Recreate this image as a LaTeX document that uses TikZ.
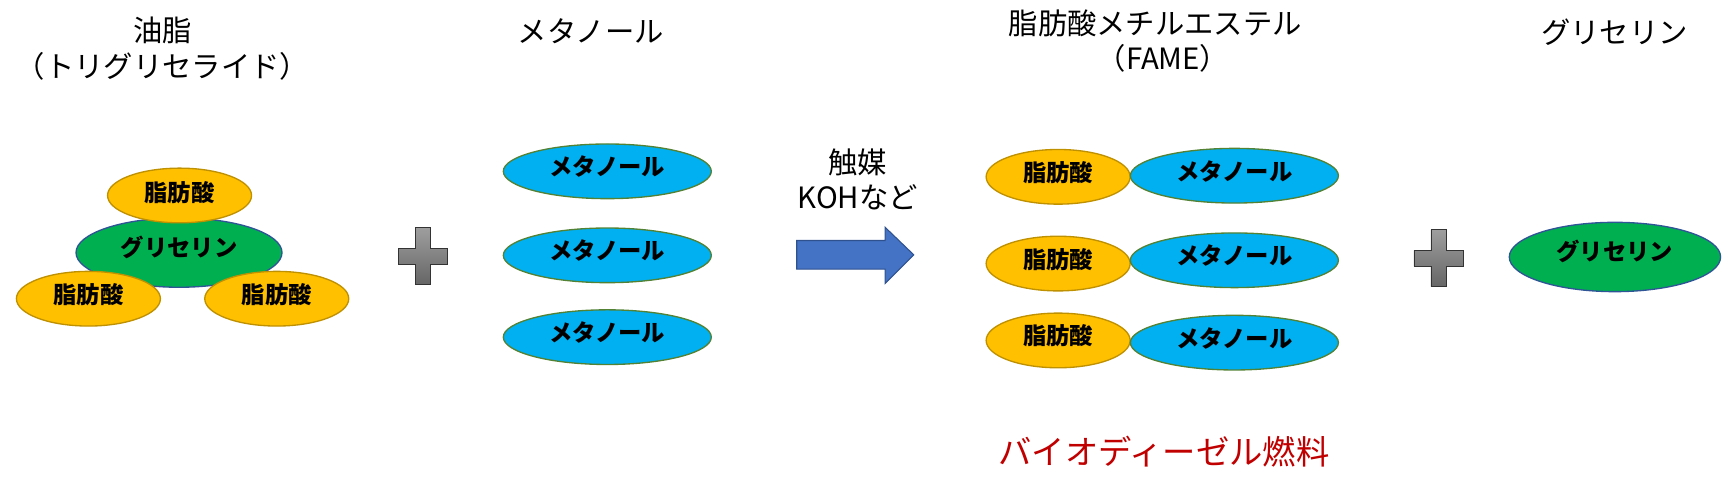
\documentclass[tikz,border=0pt]{standalone}
\usepackage{fontspec}
\setmainfont{Noto Sans CJK JP}
\usetikzlibrary{shapes.geometric}
\definecolor{fa}{HTML}{FFC000}
\definecolor{faline}{HTML}{BF9000}
\definecolor{me}{HTML}{00B0F0}
\definecolor{meline}{HTML}{548235}
\definecolor{gl}{HTML}{00B050}
\definecolor{glline}{HTML}{2F5597}
\definecolor{arr}{HTML}{4472C4}
\definecolor{arrline}{HTML}{2F528F}
\definecolor{redtxt}{HTML}{C00000}
\tikzset{
  blob/.style={ellipse,inner sep=0pt,line width=1pt},
  fablob/.style={blob,draw=faline,fill=fa,minimum width=108pt,minimum height=41pt},
  meblob/.style={blob,draw=meline,fill=me,minimum width=156pt,minimum height=41pt},
  glblob/.style={blob,draw=glline,fill=gl,minimum width=154.5pt,minimum height=52pt},
  glwide/.style={glblob,minimum width=158.5pt},
  intext/.style={font=\fontsize{17.5}{20}\selectfont\bfseries,inner sep=0pt},
  title/.style={font=\fontsize{22}{24}\selectfont,inner sep=0pt,align=center},
  plusmark/.style={draw=black!80,line width=0.6pt,top color=black!38,bottom color=black!60},
  arrowmark/.style={draw=arrline,line width=0.8pt,fill=arr}
}
\newcommand{\pill}[6]{%
  \node[#4] (#1) at (#2,#3) {};
  \node[intext] (#1t) at (#2,#3-#5) {#6};}
\newcommand{\plusat}[2]{%
  \path[plusmark] (#1-22.5,#2-7) -- (#1-7,#2-7) -- (#1-7,#2-26) -- (#1+7,#2-26) -- (#1+7,#2-7) -- (#1+22.5,#2-7) -- (#1+22.5,#2+7.5) -- (#1+7,#2+7.5) -- (#1+7,#2+26) -- (#1-7,#2+26) -- (#1-7,#2+7.5) -- (#1-22.5,#2+7.5) -- cycle;}
\begin{document}
\begin{tikzpicture}[x=0.8237pt,y=-0.8237pt]
\useasboundingbox (0,0) rectangle (1568,453.5);
% titles
\node[title] (t1) at (148,28) {油脂};
\node[title] (t2) at (148,60) {（トリグリセライド）};
\node[title] (t3) at (538,28) {メタノール};
\node[title] (t4) at (781,148) {触媒};
\node[title] (t5) at (781,180) {KOHなど};
\node[title] (t6) at (1052,21) {脂肪酸メチルエステル};
\node[title] (t7) at (1059,53) {（FAME）};
\node[title] (t8) at (1470,29) {グリセリン};
\node[title,text=redtxt,font=\fontsize{25}{27}\selectfont] (t9) at (1060,411) {バイオディーゼル燃料};
% triglyceride
\pill{g1}{163}{230}{glblob}{5}{グリセリン}
\pill{f1}{163.5}{178}{fablob}{3}{脂肪酸}
\pill{f2}{80.5}{272}{fablob}{4}{脂肪酸}
\pill{f3}{252}{272}{fablob}{4}{脂肪酸}
\plusat{385}{233}
% methanol
\pill{m1}{553}{156}{meblob}{4}{メタノール}
\pill{m2}{553}{232.5}{meblob}{4}{メタノール}
\pill{m3}{553}{307}{meblob}{4}{メタノール}
% arrow
\path[arrowmark] (725.5,219) -- (806,219) -- (806,207) -- (832,232) -- (806,258) -- (806,245) -- (725.5,245) -- cycle;
% FAME
\pill{f4}{963.5}{161}{fablob}{4}{脂肪酸}
\pill{f5}{963.5}{240}{fablob}{4}{脂肪酸}
\pill{f6}{963.5}{310}{fablob}{4}{脂肪酸}
\pill{m4}{1124}{160}{meblob}{4}{メタノール}
\pill{m5}{1124}{237}{meblob}{4}{メタノール}
\pill{m6}{1124}{312}{meblob}{4}{メタノール}
\plusat{1310}{235}
\pill{g2}{1470.5}{234}{glwide}{5}{グリセリン}
\end{tikzpicture}
\end{document}
